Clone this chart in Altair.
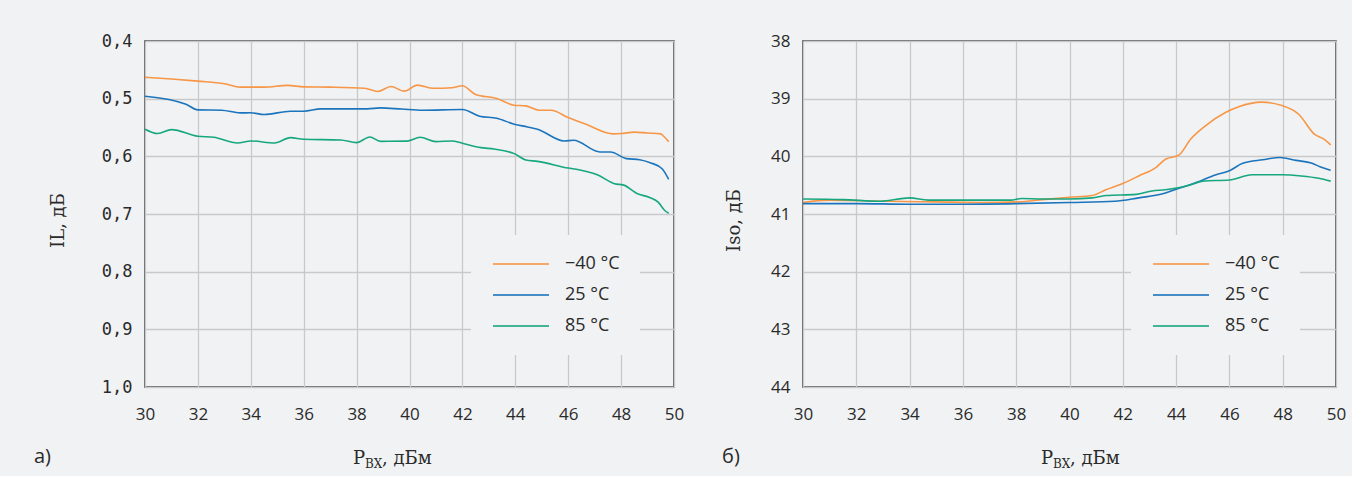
import altair as alt
import pandas as pd

series = ["−40 °C", "25 °C", "85 °C"]
colors = ["#f79646", "#1c75bc", "#17a77f"]

# Panel a: IL vs Pin
a_x_m40 = [30, 31, 32, 33, 33.6, 34.5, 35.4, 36, 37, 38.3, 38.8, 39.3, 39.8, 40.3, 40.9, 41.6, 42.0,
           42.5, 43.3, 43.95, 44.4, 44.9, 45.35, 46, 46.7, 47.7, 48, 48.5, 49, 49.5, 49.6, 49.8]
a_y_m40 = [0.463, 0.466, 0.4696, 0.474, 0.480, 0.480, 0.477, 0.4795, 0.480, 0.482, 0.4875, 0.479, 0.487,
           0.4765, 0.482, 0.481, 0.4777, 0.4927, 0.4997, 0.5113, 0.5125, 0.52, 0.52, 0.5327, 0.545, 0.561,
           0.5605, 0.558, 0.5595, 0.561, 0.5647, 0.5745]
a_x_25 = [30, 31.55, 32.0, 32.9, 33.6, 34.0, 34.5, 35.5, 36.0, 36.65, 38.4, 38.9, 39.7, 40.5, 42.0, 42.65,
          43.3, 43.96, 44.46, 44.84, 45.85, 46.2, 47.2, 47.6, 48.2, 48.7, 49.1, 49.55, 49.8]
a_y_25 = [0.4957, 0.5096, 0.5195, 0.520, 0.5247, 0.5245, 0.5275, 0.5217, 0.5217, 0.5177, 0.5177, 0.516,
          0.518, 0.520, 0.5188, 0.5304, 0.534, 0.5443, 0.549, 0.553, 0.5733, 0.5722, 0.5925, 0.5925, 0.604,
          0.6058, 0.611, 0.6215, 0.64]
a_x_85 = [30, 30.48, 31.0, 32.0, 32.6, 33.5, 34.0, 34.9, 35.5, 36.0, 37.4, 38.0, 38.5, 38.9, 39.9, 40.4,
          41.0, 41.6, 42.0, 42.7, 43.2, 43.96, 44.4, 44.84, 46.0, 46.4, 47.1, 47.75, 48.1, 48.6, 49.1, 49.4,
          49.65, 49.8]
a_y_85 = [0.553, 0.5605, 0.5536, 0.5652, 0.567, 0.5768, 0.5733, 0.5768, 0.5675, 0.5704, 0.5716, 0.5762,
          0.5664, 0.574, 0.5736, 0.567, 0.5745, 0.5733, 0.5774, 0.5849, 0.5873, 0.5953, 0.6064, 0.6087,
          0.6203, 0.6232, 0.6319, 0.6475, 0.6499, 0.6643, 0.6718, 0.6794, 0.6939, 0.6986]

# Panel b: Iso vs Pin
b_x_m40 = [30, 31, 33.2, 35, 36.7, 38.1, 39.0, 40.0, 40.85, 41.36, 42.0, 42.6, 43.25, 43.6, 44.1, 44.55,
           45.1, 45.85, 46.35, 47.2, 47.97, 48.6, 49.2, 49.55, 49.8]
b_y_m40 = [40.80, 40.76, 40.78, 40.79, 40.80, 40.79, 40.75, 40.71, 40.68, 40.58, 40.47, 40.34, 40.19,
           40.05, 39.98, 39.70, 39.47, 39.24, 39.14, 39.06, 39.12, 39.27, 39.62, 39.70, 39.80]
b_x_25 = [30, 32, 34, 36, 38, 40, 41.7, 42.6, 43.5, 44.0, 44.6, 45.5, 46.0, 46.5, 47.25, 47.9, 48.5, 49.1,
          49.4, 49.8]
b_y_25 = [40.82, 40.82, 40.83, 40.83, 40.82, 40.80, 40.78, 40.72, 40.65, 40.57, 40.48, 40.32, 40.25,
          40.12, 40.06, 40.02, 40.07, 40.12, 40.18, 40.24]
b_x_85 = [30, 31.5, 32.9, 34.0, 34.7, 36, 37.8, 38.2, 39, 40, 40.86, 41.36, 42.5, 43.1, 43.6, 44.5, 45.0,
          46.0, 46.85, 47.97, 48.7, 49.35, 49.8]
b_y_85 = [40.74, 40.75, 40.78, 40.72, 40.76, 40.76, 40.76, 40.73, 40.74, 40.74, 40.72, 40.68, 40.66,
          40.60, 40.58, 40.50, 40.43, 40.41, 40.32, 40.32, 40.34, 40.38, 40.43]

x_ticks = [30, 32, 34, 36, 38, 40, 42, 44, 46, 48, 50]
a_y_ticks = [0.4, 0.5, 0.6, 0.7, 0.8, 0.9, 1.0]
b_y_ticks = [38, 39, 40, 41, 42, 43, 44]


def make_df(xs_list, ys_list):
    rows = []
    for s, xs, ys in zip(series, xs_list, ys_list):
        for i, (x, y) in enumerate(zip(xs, ys)):
            rows.append({"x": x, "y": y, "s": s, "o": i})
    return pd.DataFrame(rows)


df_a = make_df([a_x_m40, a_x_25, a_x_85], [a_y_m40, a_y_25, a_y_85])
df_b = make_df([b_x_m40, b_x_25, b_x_85], [b_y_m40, b_y_25, b_y_85])

W_A, W_B, H = 529, 533, 346
SERIF = "DejaVu Serif"
SANS = "Open Sans"
INK = "#2a2a2a"


def panel(df, width, ydom, yticks, ytitle, ylabel_expr, ylabel_font, title_x, legend_x, letter, letter_x, px):
    xenc = alt.X("x:Q", scale=alt.Scale(domain=[30, 50], nice=False, zero=False),
                 axis=alt.Axis(values=x_ticks, format="d", title=None, labelPadding=19,
                               labelFlush=False, labelFont=SANS, labelFontSize=17))
    yenc = alt.Y("y:Q", scale=alt.Scale(domain=ydom, reverse=True, nice=False, zero=False),
                 axis=alt.Axis(values=yticks, labelExpr=ylabel_expr, title=ytitle,
                               labelFont=ylabel_font, labelFontSize=17, labelPadding=13,
                               labelFlush=False,
                               titleFont=SERIF, titleFontSize=18, titleFontWeight="normal",
                               titleColor=INK, titleX=title_x, titleY=179, titleAngle=270,
                               titleAlign="center", titleBaseline="middle"))
    lines = alt.Chart(df).mark_line(strokeWidth=1.6, interpolate="monotone").encode(
        x=xenc, y=yenc,
        color=alt.Color("s:N", scale=alt.Scale(domain=series, range=colors),
                        legend=alt.Legend(title=None, orient="none", legendX=legend_x, legendY=194,
                                          fillColor="#f1f2f4", padding=20,
                                          symbolType="M-4,0H4", symbolSize=196,
                                          symbolOffset=21, symbolStrokeWidth=2.2,
                                          symbolOpacity=0.8,
                                          labelFont=SANS, labelFontSize=18, labelColor=INK,
                                          labelOffset=35, rowPadding=13)),
        order="o:Q",
    )
    txt = pd.DataFrame({"t": [letter]})
    lab = alt.Chart(txt).mark_text(font=SANS, fontSize=20, align="left", baseline="alphabetic",
                                   color=INK).encode(
        x=alt.value(letter_x), y=alt.value(422), text="t:N")
    t1 = alt.Chart(pd.DataFrame({"t": ["Р"]})).mark_text(
        font=SERIF, fontSize=18, align="left", baseline="alphabetic", color=INK).encode(
        x=alt.value(px), y=alt.value(423), text="t:N")
    t2 = alt.Chart(pd.DataFrame({"t": ["ВХ"]})).mark_text(
        font=SERIF, fontSize=12, align="left", baseline="alphabetic", color=INK).encode(
        x=alt.value(px + 12), y=alt.value(427), text="t:N")
    t3 = alt.Chart(pd.DataFrame({"t": [", дБм"]})).mark_text(
        font=SERIF, fontSize=18, align="left", baseline="alphabetic", color=INK).encode(
        x=alt.value(px + 29), y=alt.value(423), text="t:N")
    return alt.layer(lines, lab, t1, t2, t3).properties(width=width, height=H)


pa = panel(df_a, W_A, [0.4, 1.0], a_y_ticks, "IL, дБ",
           "replace(format(datum.value, '.1f'), '.', ',')", "DejaVu Sans Mono",
           -87, 326, "а)", -111, 208)
pb = panel(df_b, W_B, [38, 44], b_y_ticks, "Iso, дБ",
           "format(datum.value, 'd')", SANS,
           -69, 328, "б)", -81, 238)

chart = alt.hconcat(pa, pb, spacing=36).resolve_legend(color="independent").configure(
    background="#f1f2f4",
    padding={"left": 33, "top": 31, "right": 5, "bottom": 5},
).configure_view(stroke="#3a3a3a", strokeWidth=1.5).configure_axis(
    grid=True, gridColor="#c9c9c9", gridWidth=1.3, domain=False, ticks=False,
    labelColor=INK,
)

chart.save("out.html", embed_options={"renderer": "svg", "actions": False})
